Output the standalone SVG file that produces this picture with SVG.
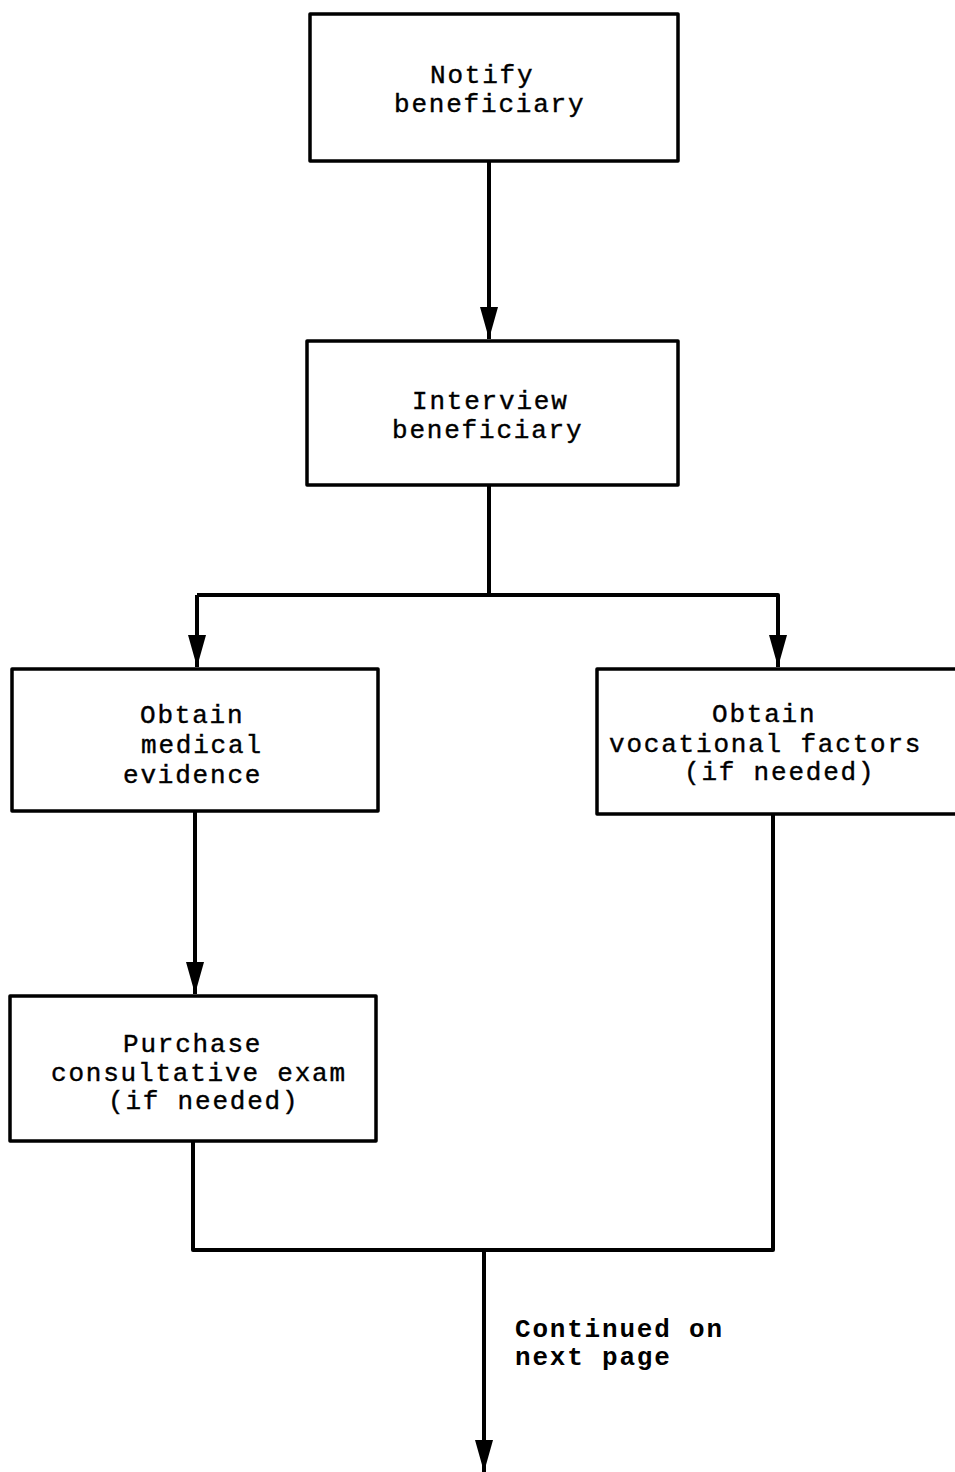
<svg xmlns="http://www.w3.org/2000/svg" width="955" height="1472" viewBox="0 0 955 1472">
<style>
.box{fill:#fff;stroke:#000;stroke-width:3.5;stroke-linejoin:round}
.t{font-family:"Liberation Mono","Courier New",monospace;font-size:26px;letter-spacing:1.8px;fill:#000;stroke:#000;stroke-width:0.4}
.b{font-weight:bold;stroke-width:0}
.c{fill:none;stroke:#000;stroke-width:4;stroke-linejoin:round}
</style>
<defs>
<marker id="ah" markerUnits="userSpaceOnUse" markerWidth="32" markerHeight="20" viewBox="0 0 32 20" refX="32" refY="10" orient="auto">
<path d="M0,1 L32,10 L0,19 Z" fill="#000"/>
</marker>
</defs>
<rect width="955" height="1472" fill="#fff"/>
<g id="connectors">
<path class="c" d="M489,162 V339" marker-end="url(#ah)"/>
<path class="c" d="M489,486 V595 M489,595 H197"/>
<path class="c" d="M197,595 V667" marker-end="url(#ah)"/>
<path class="c" d="M489,595 H778 V667" marker-end="url(#ah)"/>
<path class="c" d="M195,812 V994" marker-end="url(#ah)"/>
<path class="c" d="M193,1142 V1250 H773 V815"/>
<path class="c" d="M484,1250 V1472" marker-end="url(#ah)"/>
</g>
<g id="notify">
<rect class="box" x="310" y="14" width="368" height="147"/>
<text class="t" x="430" y="83">Notify</text>
<text class="t" x="394" y="112">beneficiary</text>
</g>
<g id="interview">
<rect class="box" x="307" y="341" width="371" height="144"/>
<text class="t" x="412" y="409">Interview</text>
<text class="t" x="392" y="438">beneficiary</text>
</g>
<g id="medical">
<rect class="box" x="12" y="669" width="366" height="142"/>
<text class="t" x="140" y="723">Obtain</text>
<text class="t" x="141" y="753">medical</text>
<text class="t" x="123" y="783">evidence</text>
</g>
<g id="vocational">
<rect class="box" x="597" y="669" width="370" height="145"/>
<text class="t" x="712" y="722">Obtain</text>
<text class="t" x="609" y="752">vocational factors</text>
<text class="t" x="684" y="780">(if needed)</text>
</g>
<g id="purchase">
<rect class="box" x="10" y="996" width="366" height="145"/>
<text class="t" x="123" y="1052">Purchase</text>
<text class="t" x="51" y="1081">consultative exam</text>
<text class="t" x="108" y="1109">(if needed)</text>
</g>
<g id="continued">
<text class="t b" x="515" y="1337">Continued on</text>
<text class="t b" x="515" y="1365">next page</text>
</g>
</svg>
